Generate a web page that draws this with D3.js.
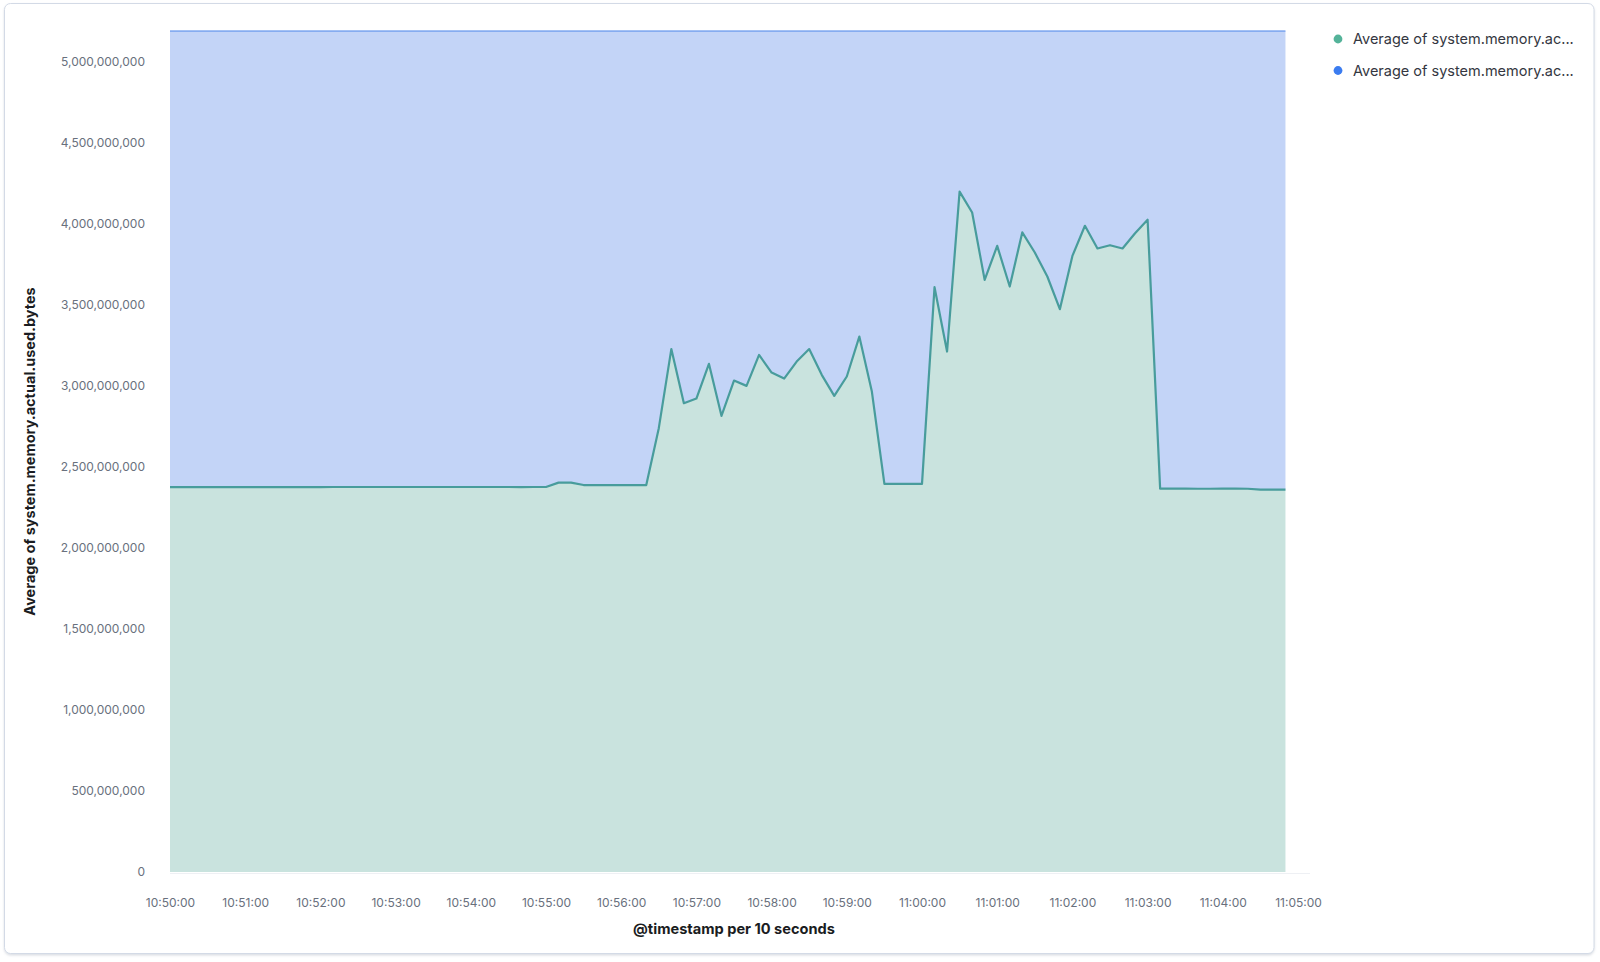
<!DOCTYPE html>
<html>
<head>
<meta charset="utf-8">
<script src="https://cdn.jsdelivr.net/npm/d3@7"></script>
<style>
  html, body { margin: 0; padding: 0; background: #ffffff; }
  svg { display: block; font-family: Inter, "Open Sans", sans-serif; }
</style>
</head>
<body>
<svg id="chart" width="1600" height="962"></svg>
<script>
// ---- data (10-second buckets from 10:50:00 to 11:04:50) ----
const startTime = "2024-01-01T10:50:00";
const bucketSeconds = 10;

const seriesNames = [
  "Average of system.memory.actual.used.bytes",
  "Average of system.memory.actual.free"
];
const legendLabels = [
  "Average of system.memory.ac...",
  "Average of system.memory.ac..."
];

const usedBytes = [
  2.375e9, 2.375e9, 2.375e9, 2.375e9, 2.375e9, 2.375e9, 2.375e9, 2.375e9, 2.375e9, 2.375e9,
  2.375e9, 2.375e9, 2.375e9, 2.376e9, 2.376e9, 2.376e9, 2.376e9, 2.376e9, 2.376e9, 2.376e9,
  2.376e9, 2.376e9, 2.376e9, 2.376e9, 2.376e9, 2.376e9, 2.376e9, 2.376e9, 2.375e9, 2.376e9,
  2.376e9, 2.403e9, 2.403e9, 2.388e9, 2.388e9, 2.388e9, 2.388e9, 2.388e9, 2.388e9, 2.739e9,
  3.227e9, 2.893e9, 2.922e9, 3.136e9, 2.815e9, 3.033e9, 3.000e9, 3.191e9, 3.082e9, 3.045e9,
  3.150e9, 3.227e9, 3.068e9, 2.938e9, 3.058e9, 3.304e9, 2.965e9, 2.395e9, 2.395e9, 2.395e9,
  2.395e9, 3.609e9, 3.212e9, 4.199e9, 4.070e9, 3.654e9, 3.864e9, 3.613e9, 3.947e9, 3.823e9,
  3.675e9, 3.473e9, 3.802e9, 3.988e9, 3.848e9, 3.868e9, 3.848e9, 3.942e9, 4.025e9, 2.366e9,
  2.366e9, 2.366e9, 2.365e9, 2.365e9, 2.366e9, 2.366e9, 2.365e9, 2.360e9, 2.360e9, 2.360e9
];

const freeBytes = [
  2.815e9, 2.815e9, 2.815e9, 2.815e9, 2.815e9, 2.815e9, 2.815e9, 2.815e9, 2.815e9, 2.815e9,
  2.815e9, 2.815e9, 2.815e9, 2.814e9, 2.814e9, 2.814e9, 2.814e9, 2.814e9, 2.814e9, 2.814e9,
  2.814e9, 2.814e9, 2.814e9, 2.814e9, 2.814e9, 2.814e9, 2.814e9, 2.814e9, 2.815e9, 2.814e9,
  2.814e9, 2.787e9, 2.787e9, 2.802e9, 2.802e9, 2.802e9, 2.802e9, 2.802e9, 2.802e9, 2.451e9,
  1.963e9, 2.297e9, 2.268e9, 2.054e9, 2.375e9, 2.157e9, 2.190e9, 1.999e9, 2.108e9, 2.145e9,
  2.040e9, 1.963e9, 2.122e9, 2.252e9, 2.132e9, 1.886e9, 2.225e9, 2.795e9, 2.795e9, 2.795e9,
  2.795e9, 1.581e9, 1.978e9, 0.991e9, 1.120e9, 1.536e9, 1.326e9, 1.577e9, 1.243e9, 1.367e9,
  1.515e9, 1.717e9, 1.388e9, 1.202e9, 1.342e9, 1.322e9, 1.342e9, 1.248e9, 1.165e9, 2.824e9,
  2.824e9, 2.824e9, 2.825e9, 2.825e9, 2.824e9, 2.824e9, 2.825e9, 2.830e9, 2.830e9, 2.830e9
];

const xTickLabels = ["10:50:00","10:51:00","10:52:00","10:53:00","10:54:00","10:55:00","10:56:00",
  "10:57:00","10:58:00","10:59:00","11:00:00","11:01:00","11:02:00","11:03:00","11:04:00","11:05:00"];
const yTickValues = [0, 5e8, 1e9, 1.5e9, 2e9, 2.5e9, 3e9, 3.5e9, 4e9, 4.5e9, 5e9];
const yMax = 5.19e9;

const xTitle = "@timestamp per 10 seconds";
const yTitle = "Average of system.memory.actual.used.bytes";

const colors = { usedLine: "#489c9c", usedFill: "#c9e3de", freeLine: "#4a84ea", freeFill: "#c3d4f7",
                 usedDot: "#54b399", freeDot: "#3b7cf0" };

// ---- build table ----
const t0 = new Date(startTime);
const rows = usedBytes.map((u, i) => ({
  time: d3.timeSecond.offset(t0, i * bucketSeconds),
  used: u,
  free: freeBytes[i]
}));
const parseTick = s => new Date("2024-01-01T" + s);
const xTicks = xTickLabels.map(parseTick);

// ---- layout ----
const svg = d3.select("#chart");
const plot = { left: 170, right: 1298, top: 31, bottom: 872 };

// panel with soft shadow
const defs = svg.append("defs");
const f = defs.append("filter").attr("id", "shadow").attr("x", "-2%").attr("y", "-2%")
  .attr("width", "104%").attr("height", "104%");
f.append("feDropShadow").attr("dx", 0).attr("dy", 1.5).attr("stdDeviation", 1.2)
  .attr("flood-color", "#98a2b3").attr("flood-opacity", 0.35);
svg.append("rect")
  .attr("x", 4.5).attr("y", 3.5).attr("width", 1589.5).attr("height", 950)
  .attr("rx", 6).attr("fill", "#ffffff").attr("stroke", "#d3dae6")
  .attr("filter", "url(#shadow)");

const x = d3.scaleTime().domain([xTicks[0], xTicks[xTicks.length - 1]]).range([plot.left, plot.right]);
const y = d3.scaleLinear().domain([0, yMax]).range([plot.bottom, plot.top]);

const stack = d3.stack().keys(["used", "free"]);
const stacked = stack(rows);

const area = d3.area().x(d => x(d.data.time)).y0(d => y(d[0])).y1(d => y(d[1]));
const topLine = d3.line().x(d => x(d.data.time)).y(d => y(d[1]));

// free (blue) area on top of used
svg.append("path").datum(stacked[1]).attr("d", area).attr("fill", colors.freeFill);
svg.append("path").datum(stacked[0]).attr("d", area).attr("fill", colors.usedFill);
svg.append("path").datum(stacked[1]).attr("d", topLine)
  .attr("fill", "none").attr("stroke", colors.freeLine).attr("stroke-width", 1.2);
svg.append("path").datum(stacked[0]).attr("d", topLine)
  .attr("fill", "none").attr("stroke", colors.usedLine).attr("stroke-width", 2.2)
  .attr("stroke-linejoin", "round");

// bottom axis baseline
svg.append("line").attr("x1", plot.left).attr("x2", plot.right + 12)
  .attr("y1", plot.bottom + 1.5).attr("y2", plot.bottom + 1.5)
  .attr("stroke", "#eef0f4").attr("stroke-width", 1);

// axes
const xAxis = d3.axisBottom(x).tickValues(xTicks).tickSize(0).tickPadding(0)
  .tickFormat((d, i) => xTickLabels[i]);
const gx = svg.append("g").attr("transform", `translate(0,${plot.bottom + 26})`).call(xAxis);
gx.select(".domain").remove();
gx.selectAll("text").attr("fill", "#69707d").attr("font-size", 12)
  .attr("font-family", "Inter, sans-serif");

const yAxis = d3.axisLeft(y).tickValues(yTickValues).tickSize(0).tickPadding(0)
  .tickFormat(d3.format(","));
const gy = svg.append("g").attr("transform", `translate(${plot.left - 25},0)`).call(yAxis);
gy.select(".domain").remove();
gy.selectAll("text").attr("fill", "#69707d").attr("font-size", 12)
  .attr("font-family", "Inter, sans-serif");

// axis titles
svg.append("text").attr("x", (plot.left + plot.right) / 2).attr("y", 934)
  .attr("text-anchor", "middle").attr("font-size", 14.6).attr("font-weight", 700)
  .attr("fill", "#1a1c21").text(xTitle);
svg.append("text").attr("transform", `translate(35,${(plot.top + plot.bottom) / 2}) rotate(-90)`)
  .attr("text-anchor", "middle").attr("font-size", 14.5).attr("font-weight", 700)
  .attr("fill", "#1a1c21").text(yTitle);

// legend
const legend = svg.append("g");
const legendDots = [colors.usedDot, colors.freeDot];
legendLabels.forEach((lab, i) => {
  const cy = 39 + i * 31.5;
  legend.append("circle").attr("cx", 1338).attr("cy", cy).attr("r", 4.4).attr("fill", legendDots[i]);
  legend.append("text").attr("x", 1353).attr("y", cy).attr("dy", "0.35em")
    .attr("font-size", 14.5).attr("fill", "#343741").text(lab);
});
</script>
</body>
</html>
